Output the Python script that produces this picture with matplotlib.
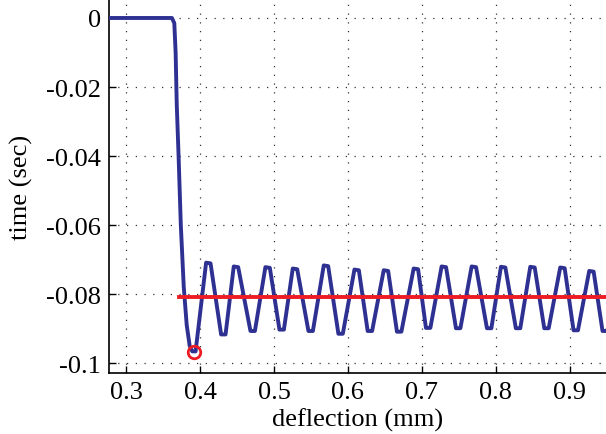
import matplotlib
matplotlib.use('Agg')
import matplotlib.pyplot as plt

# blue trace: flat start, the drop, then the oscillation
trace_x = [0.277, 0.362, 0.3652, 0.367, 0.3685, 0.371, 0.374, 0.378, 0.382, 0.386,
           0.3895, 0.394,
           0.4082, 0.4142, 0.4285, 0.4345, 0.4456, 0.4516, 0.4682, 0.4742,
           0.4884, 0.4944, 0.5074, 0.5134, 0.5254, 0.5314, 0.5466, 0.5526,
           0.5673, 0.5733, 0.5871, 0.5931, 0.6088, 0.6148, 0.6267, 0.6327,
           0.6484, 0.6544, 0.6663, 0.6723, 0.6889, 0.6949, 0.7055, 0.7115,
           0.7267, 0.7327, 0.7461, 0.7521, 0.7673, 0.7733, 0.7880, 0.7940,
           0.8069, 0.8129, 0.8271, 0.8331, 0.8466, 0.8526, 0.8655, 0.8715,
           0.8871, 0.8931, 0.9051, 0.9111, 0.9263, 0.9323, 0.9443, 0.9503,
           0.965]
trace_y = [0.0, 0.0, -0.0015, -0.010, -0.025, -0.040, -0.060, -0.078, -0.089, -0.0950,
           -0.0966, -0.0966,
           -0.0709, -0.0711, -0.0917, -0.0917, -0.0720, -0.0722, -0.0907, -0.0907,
           -0.0722, -0.0724, -0.0903, -0.0903, -0.0726, -0.0728, -0.0907, -0.0907,
           -0.0717, -0.0719, -0.0915, -0.0915, -0.0729, -0.0731, -0.0907, -0.0907,
           -0.0731, -0.0733, -0.0909, -0.0909, -0.0726, -0.0728, -0.0898, -0.0898,
           -0.0720, -0.0722, -0.0899, -0.0899, -0.0720, -0.0722, -0.0899, -0.0899,
           -0.0721, -0.0723, -0.0899, -0.0899, -0.0721, -0.0723, -0.0899, -0.0899,
           -0.0723, -0.0725, -0.0905, -0.0905, -0.0733, -0.0735, -0.0907, -0.0907,
           -0.075]

mean_level = -0.0809
mean_x = [0.3716, 0.96]
min_point = (0.392, -0.0967)

xticks = [0.3, 0.4, 0.5, 0.6, 0.7, 0.8, 0.9]
yticks = [0, -0.02, -0.04, -0.06, -0.08, -0.1]
ytick_labels = ['0', '-0.02', '-0.04', '-0.06', '-0.08', '-0.1']

plt.rcParams['font.family'] = ['Liberation Serif', 'DejaVu Serif']

fig = plt.figure(figsize=(6.06, 4.35), dpi=100)
ax = fig.add_axes([0.18, 0.14, 0.82, 0.86])

ax.plot(trace_x, trace_y, color='#2e3192', lw=2.8, solid_joinstyle='round', zorder=3)
ax.plot(mean_x, [mean_level, mean_level], color='#ed1c24', lw=2.8, zorder=4)
ax.plot([min_point[0]], [min_point[1]], 'o', ms=9, mfc='none', mec='#ed1c24', mew=2, zorder=5)

ax.set_xlim(0.277, 0.949)
ax.set_ylim(-0.1029, 0.0055)
ax.set_xticks(xticks)
ax.set_xticklabels([str(v) for v in xticks])
ax.set_yticks(yticks)
ax.set_yticklabels(ytick_labels)
ax.tick_params(direction='in', length=5, width=1, labelsize=19, pad=6)

ax.grid(True, linestyle=(0, (1, 6)), color='#333333', lw=0.9)
ax.spines['top'].set_visible(False)
ax.spines['right'].set_visible(False)
ax.spines['left'].set_linewidth(1.2)
ax.spines['bottom'].set_linewidth(1.2)

ax.set_xlabel('deflection (mm)', fontsize=19, labelpad=3)
ax.set_ylabel('time (sec)', fontsize=19, labelpad=9)

fig.savefig('out.png', dpi=100)
